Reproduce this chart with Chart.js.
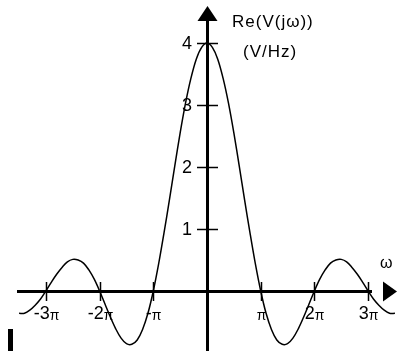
<!DOCTYPE html>
<html>
<head>
<meta charset="utf-8">
<script src="https://cdn.jsdelivr.net/npm/chart.js@4/dist/chart.umd.min.js"></script>
<style>
  html, body { margin: 0; padding: 0; background: #fff; }
  #wrap { width: 403px; height: 351px; position: relative; }
</style>
</head>
<body>
<div id="wrap"><canvas id="myChart" width="403" height="351"></canvas></div>
<script>
// omega in multiples of pi
const omega = [
  -3.5, -3.4, -3.3, -3.2, -3.1, -3.0, -2.9, -2.8, -2.7, -2.6,
  -2.5, -2.4, -2.3, -2.2, -2.1, -2.0, -1.9, -1.8, -1.7, -1.6,
  -1.5, -1.4, -1.3, -1.2, -1.1, -1.0, -0.9, -0.8, -0.7, -0.6,
  -0.5, -0.4, -0.3, -0.2, -0.1, 0.0, 0.1, 0.2, 0.3, 0.4,
  0.5, 0.6, 0.7, 0.8, 0.9, 1.0, 1.1, 1.2, 1.3, 1.4,
  1.5, 1.6, 1.7, 1.8, 1.9, 2.0, 2.1, 2.2, 2.3, 2.4,
  2.5, 2.6, 2.7, 2.8, 2.9, 3.0, 3.1, 3.2, 3.3, 3.4,
  3.5
];
// Re(V(jw)) in V/Hz
const reV = [
  -0.36, -0.36, -0.31, -0.23, -0.13, 0.00, 0.14, 0.27, 0.38, 0.47,
  0.51, 0.50, 0.45, 0.34, 0.19, 0.00, -0.21, -0.42, -0.61, -0.76,
  -0.85, -0.86, -0.79, -0.62, -0.36, 0.00, 0.44, 0.94, 1.47, 2.02,
  2.55, 3.03, 3.43, 3.74, 3.93, 4.00, 3.93, 3.74, 3.43, 3.03,
  2.55, 2.02, 1.47, 0.94, 0.44, 0.00, -0.36, -0.62, -0.79, -0.86,
  -0.85, -0.76, -0.61, -0.42, -0.21, 0.00, 0.19, 0.34, 0.45, 0.50,
  0.51, 0.47, 0.38, 0.27, 0.14, 0.00, -0.13, -0.23, -0.31, -0.36,
  -0.36
];
const yTicks = [1, 2, 3, 4];
const xTicks = [-3, -2, -1, 1, 2, 3];
const xTickLabels = ['-3', '-2', '-', '', '2', '3'];

const FONT = '"Liberation Sans", Arial, sans-serif';

// hand-drawn style axes through the origin, with arrows
const axesPlugin = {
  id: 'axes',
  afterDatasetsDraw(chart) {
    const ctx = chart.ctx;
    const xs = chart.scales.x, ys = chart.scales.y;
    const x0 = Math.round(xs.getPixelForValue(0));
    const y0 = Math.round(ys.getPixelForValue(0));
    const W = chart.width, H = chart.height;
    ctx.save();
    ctx.fillStyle = '#000';
    ctx.strokeStyle = '#000';

    // axis lines
    ctx.fillRect(17, y0 - 1, 372 - 17, 3);
    ctx.fillRect(x0 - 1, 18, 3, H - 18);

    // arrow heads
    ctx.beginPath();
    ctx.moveTo(397, y0 + 0.5);
    ctx.lineTo(383, y0 - 9.5);
    ctx.lineTo(383, y0 + 10.5);
    ctx.closePath();
    ctx.fill();
    ctx.beginPath();
    ctx.moveTo(x0 + 0.5, 6);
    ctx.lineTo(x0 - 9.5, 21);
    ctx.lineTo(x0 + 10.5, 21);
    ctx.closePath();
    ctx.fill();

    // y ticks
    ctx.lineWidth = 1.5;
    ctx.font = '18px ' + FONT;
    ctx.textAlign = 'right';
    ctx.textBaseline = 'middle';
    yTicks.forEach(v => {
      const py = Math.round(ys.getPixelForValue(v)) + 0.5;
      ctx.beginPath();
      ctx.moveTo(x0 - 10, py);
      ctx.lineTo(x0 + 11, py);
      ctx.stroke();
      ctx.fillText(String(v), x0 - 15, py + 1);
    });

    // x ticks with pi labels
    xTicks.forEach((v, i) => {
      const px = Math.round(xs.getPixelForValue(v)) + 0.5;
      ctx.beginPath();
      ctx.moveTo(px, y0 - 9);
      ctx.lineTo(px, y0 + 10);
      ctx.stroke();
      const pre = xTickLabels[i];
      ctx.font = '18px ' + FONT;
      const w1 = ctx.measureText(pre).width;
      ctx.font = '14px ' + FONT;
      const w2 = ctx.measureText('π').width;
      let left = px - (w1 + w2) / 2;
      ctx.textAlign = 'left';
      ctx.textBaseline = 'alphabetic';
      ctx.font = '18px ' + FONT;
      ctx.fillText(pre, left, y0 + 28);
      ctx.font = '14px ' + FONT;
      ctx.fillText('π', left + w1, y0 + 29);
    });

    // axis titles
    ctx.font = '17px ' + FONT;
    ctx.textAlign = 'left';
    ctx.textBaseline = 'alphabetic';
    ctx.letterSpacing = '1px';
    ctx.fillText('Re(V(jω))', 232, 27);
    ctx.fillText('(V/Hz)', 243, 57);
    ctx.letterSpacing = '0px';
    ctx.font = '16px ' + FONT;
    ctx.fillText('ω', 380, 268);

    // small bar at lower left
    ctx.fillRect(8, 329, 5, 22);
    ctx.restore();
  }
};

document.addEventListener('DOMContentLoaded', function () {
  const ctx = document.getElementById('myChart').getContext('2d');
  const myChart = new Chart(ctx, {
    type: 'line',
    data: {
      datasets: [{
        data: omega.map((w, i) => ({ x: w, y: reV[i] })),
        borderColor: '#000',
        borderWidth: 1.5,
        pointRadius: 0,
        tension: 0.35,
        fill: false
      }]
    },
    options: {
      responsive: false,
      animation: false,
      layout: { padding: 0 },
      plugins: {
        legend: { display: false },
        tooltip: { enabled: false }
      },
      scales: {
        x: { type: 'linear', min: -3.855, max: 3.65, display: false },
        y: { min: -0.968, max: 4.694, display: false }
      }
    },
    plugins: [axesPlugin]
  });
});
</script>
</body>
</html>
